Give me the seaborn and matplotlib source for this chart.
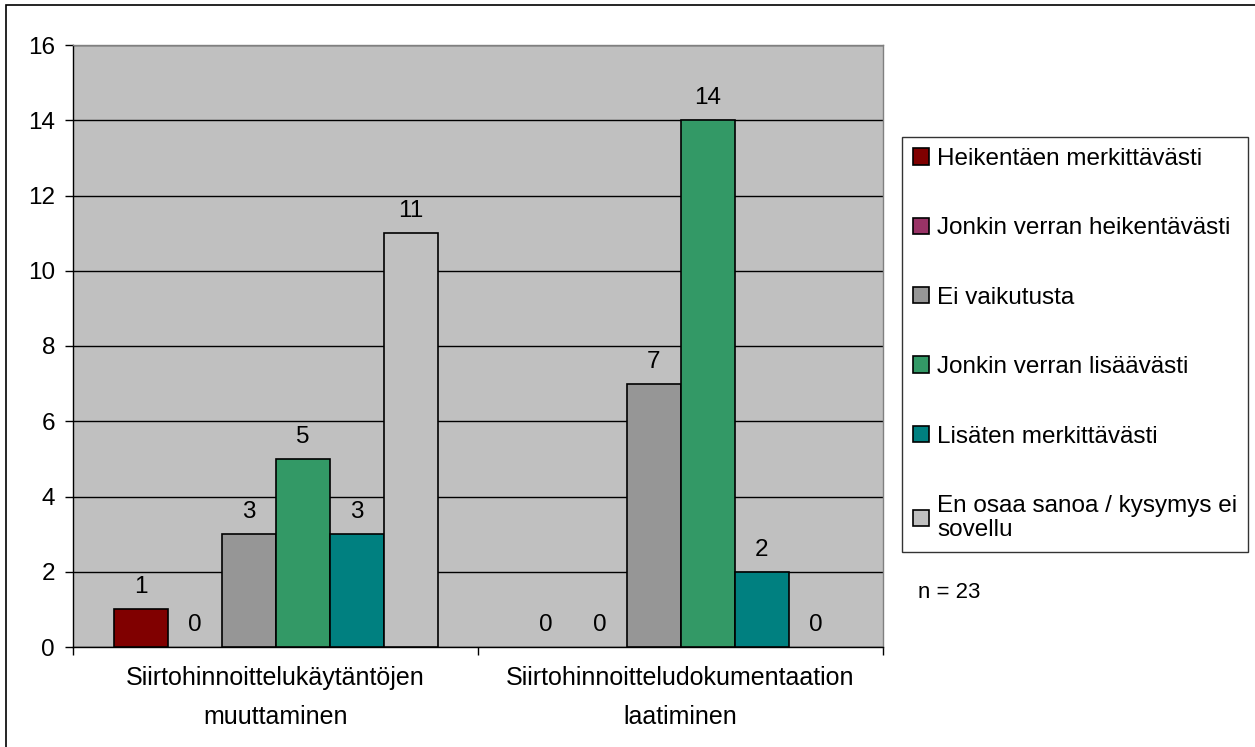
import matplotlib
matplotlib.use("Agg")
import matplotlib.pyplot as plt
import seaborn as sns
import pandas as pd
from matplotlib.patches import Patch, Rectangle

# Survey answers: effect on transfer pricing work
categories = ["Siirtohinnoittelukäytäntöjen\nmuuttaminen",
              "Siirtohinnoitteludokumentaation\nlaatiminen"]
answers = ["Heikentäen merkittävästi",
           "Jonkin verran heikentävästi",
           "Ei vaikutusta",
           "Jonkin verran lisäävästi",
           "Lisäten merkittävästi",
           "En osaa sanoa / kysymys ei\nsovellu"]
counts_practices = [1, 0, 3, 5, 3, 11]
counts_documentation = [0, 0, 7, 14, 2, 0]
colors = ["#800000", "#993366", "#969696", "#339966", "#008080", "#C0C0C0"]
y_ticks = [0, 2, 4, 6, 8, 10, 12, 14, 16]
sample_note = "n = 23"

rows = []
for cat, vals in zip(categories, [counts_practices, counts_documentation]):
    for ans, v in zip(answers, vals):
        rows.append({"category": cat, "answer": ans, "count": v})
df = pd.DataFrame(rows)

sns.set_theme(style="white")
plt.rcParams["font.family"] = ["Liberation Sans", "DejaVu Sans"]
plt.rcParams["text.color"] = "black"
plt.rcParams["xtick.color"] = "black"
plt.rcParams["ytick.color"] = "black"
FS = 17.5

fig = plt.figure(figsize=(12.55, 7.47), dpi=100)
W, H = 1255, 747
ax = fig.add_axes([73 / W, (H - 647) / H, 810 / W, (647 - 45) / H])
ax.set_facecolor("#C0C0C0")

sns.barplot(data=df, x="category", y="count", hue="answer",
            hue_order=answers, order=categories, palette=colors,
            saturation=1, width=0.8, edgecolor="black", linewidth=1.2,
            ax=ax, legend=False, zorder=3)

for cont in ax.containers:
    ax.bar_label(cont, labels=[f"{int(b.get_height())}" for b in cont],
                 padding=8, fontsize=FS, color="black")
    for b in cont:
        if b.get_height() == 0:
            b.set_linewidth(0)

ax.set_ylim(0, 16)
ax.set_xlim(-0.5, 1.5)
ax.set_yticks(y_ticks)
ax.yaxis.grid(True, color="black", linewidth=1.0, zorder=1)
ax.set_axisbelow(True)
ax.tick_params(axis="y", labelsize=FS, length=6, width=1, color="black",
               left=True, pad=7)
ax.set_xticks([-0.5, 0.5, 1.5])
ax.set_xticklabels(["", "", ""])
ax.tick_params(axis="x", which="major", length=6, width=1, color="black",
               bottom=True)
ax.set_xticks([0, 1], minor=True)
ax.set_xticklabels(categories, minor=True, fontsize=18, linespacing=1.75)
ax.tick_params(axis="x", which="minor", length=0, pad=14)
ax.set_xlabel("")
ax.set_ylabel("")

for s in ["top", "right"]:
    ax.spines[s].set_color("#808080")
    ax.spines[s].set_linewidth(1)
for s in ["left", "bottom"]:
    ax.spines[s].set_color("black")
    ax.spines[s].set_linewidth(1)

handles = [Patch(facecolor=c, edgecolor="black", linewidth=1.2) for c in colors]
leg = fig.legend(handles, answers, loc="upper left",
                 bbox_to_anchor=(902 / W, 1 - 137 / H),
                 fontsize=FS, frameon=True, fancybox=False,
                 edgecolor="black", handlelength=0.65, handleheight=0.65,
                 handletextpad=0.35, labelspacing=1.95, borderpad=0.45,
                 borderaxespad=0)
leg.get_frame().set_linewidth(1)
leg.get_texts()[-1].set_linespacing(1.15)

fig.text(918 / W, 1 - 592 / H, sample_note, fontsize=16,
         va="center", ha="left")

fig.patches.append(Rectangle((6 / W, -0.1), 2, 1 - 5 / H + 0.1,
                             transform=fig.transFigure, fill=False,
                             edgecolor="black", linewidth=1.2))

fig.savefig("out.png", dpi=100)
